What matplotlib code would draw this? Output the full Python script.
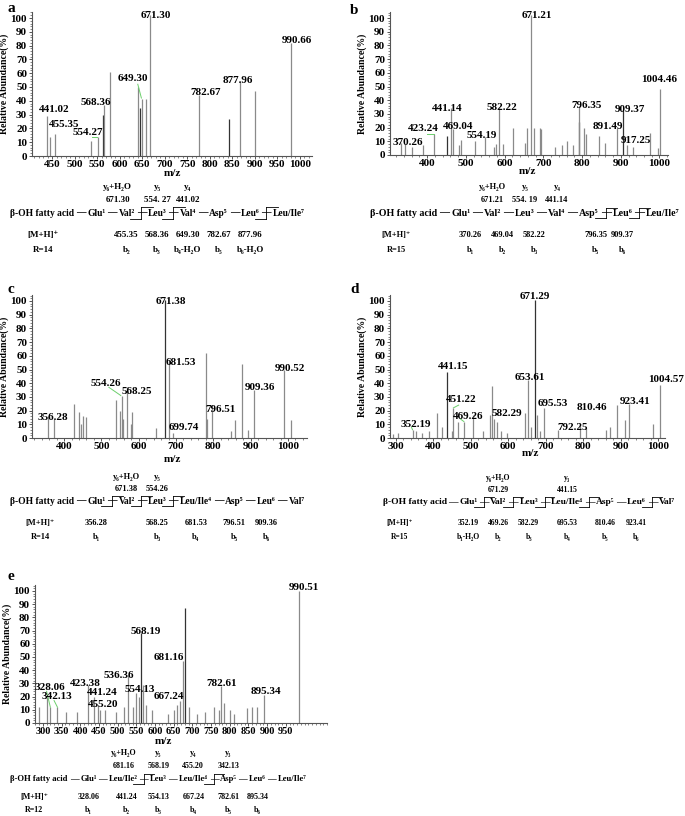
import matplotlib
matplotlib.use('Agg')
import numpy as np
import matplotlib.pyplot as plt
from matplotlib.ticker import MultipleLocator, AutoMinorLocator
from matplotlib.lines import Line2D

plt.rcParams['font.family'] = ['Liberation Serif', 'DejaVu Serif']
plt.rcParams['font.weight'] = 'bold'
plt.rcParams['axes.labelweight'] = 'bold'

W, H = 685, 816

# ---------------- spectra (m/z, relative abundance %) ----------------
a_mz = [439, 445, 455, 536, 551, 563, 566, 579, 640, 644, 649, 658, 667, 776, 842, 867, 900, 980]
a_int = [29, 14, 16, 11, 14, 30, 37, 61, 50, 35, 41, 41, 102, 44, 27, 54, 47, 82]
a_labels = ['671.30', '990.66', '649.30', '877.96', '782.67', '568.36', '441.02', '455.35', '554.27']

b_mz = [332, 344, 362, 390, 418, 452, 461, 467, 481, 488, 523, 550, 572, 579, 585, 596, 622, 652,
        658, 669, 675, 692, 695, 729, 749, 762, 776, 792, 793, 806, 809, 845, 860, 890, 907, 916,
        931, 976, 995, 1002]
b_int = [9, 8, 6, 7, 15, 14, 34, 19, 7, 11, 10, 13, 6, 8, 35, 8, 20, 9,
         20, 102, 20, 20, 19, 6, 7, 10, 7, 24, 36, 20, 15, 14, 9, 20, 33, 7,
         6, 16, 5, 48]
b_labels = ['671.21', '1004.46', '441.14', '582.22', '796.35', '909.37', '423.24', '469.04',
            '891.49', '554.19', '370.26', '917.25']

c_mz = [358, 374, 427, 441, 445, 450, 459, 539, 550, 555, 559, 568, 579, 581, 647, 671, 680,
        693, 780, 784, 796, 848, 858, 876, 892, 909, 990, 1009]
c_int = [16, 14, 25, 19, 10, 16, 15, 28, 20, 31, 14, 37, 10, 19, 7, 101, 57,
         4, 62, 14, 24, 5, 13, 54, 6, 35, 50, 13]
c_labels = ['671.38', '681.53', '990.52', '909.36', '554.26', '568.25', '796.51', '356.28', '699.74']

d_mz = [294, 307, 345, 354, 369, 390, 409, 423, 438, 449, 454, 467, 482, 507, 534, 551, 556, 562,
        569, 582, 596, 645, 653, 662, 671, 676, 685, 695, 733, 791, 807, 862, 871, 891, 911, 923,
        986, 1004]
d_int = [3, 4, 6, 5, 4, 5, 18, 8, 48, 5, 22, 12, 12, 17, 5, 17, 38, 14,
         12, 5, 4, 18, 42, 8, 101, 17, 5, 22, 6, 9, 7, 6, 8, 24, 13, 25,
         10, 39]
d_labels = ['671.29', '441.15', '653.61', '1004.57', '451.22', '923.41', '695.53', '810.46',
            '469.26', '582.29', '352.19', '792.25']

e_mz = [291, 311, 320, 339, 362, 391, 420, 436, 447, 453, 467, 496, 518, 529, 541, 550, 556, 562,
        568, 577, 592, 636, 650, 659, 668, 675, 679, 690, 712, 734, 757, 770, 777, 784, 801, 810,
        846, 859, 873, 891, 984]
e_int = [12, 20, 12, 12, 8, 8, 29, 20, 14, 10, 10, 8, 12, 36, 12, 23, 20, 68,
         29, 14, 10, 7, 10, 14, 17, 47, 87, 12, 7, 8, 12, 10, 28, 15, 10, 7,
         11, 12, 12, 21, 100]
e_labels = ['990.51', '568.19', '681.16', '536.36', '423.38', '782.61', '328.06', '554.13',
            '895.34', '441.24', '667.24', '342.13', '455.20']

# ---------------- fragmentation schemes ----------------
a_res = ['Glu¹', 'Val²', 'Leu³', 'Val⁴', 'Asp⁵', 'Leu⁶', 'Leu/Ile⁷']
a_yions = ['y₆+H₂O', 'y₅', 'y₄']
a_yvals = ['671.30', '554. 27', '441.02']
a_bvals = ['455.35', '568.36', '649.30', '782.67', '877.96']
a_bions = ['b₂', 'b₃', 'b₄-H₂O', 'b₅', 'b₆-H₂O']

b_res = ['Glu¹', 'Val²', 'Leu³', 'Val⁴', 'Asp⁵', 'Leu⁶', 'Leu/Ile⁷']
b_yions = ['y₆+H₂O', 'y₅', 'y₄']
b_yvals = ['671.21', '554. 19', '441.14']
b_bvals = ['370.26', '469.04', '582.22', '796.35', '909.37']
b_bions = ['b₁', 'b₂', 'b₃', 'b₅', 'b₆']

c_res = ['Glu¹', 'Val²', 'Leu³', 'Leu/Ile⁴', 'Asp⁵', 'Leu⁶', 'Val⁷']
c_yions = ['y₆+H₂O', 'y₅']
c_yvals = ['671.38', '554.26']
c_bvals = ['356.28', '568.25', '681.53', '796.51', '909.36']
c_bions = ['b₁', 'b₃', 'b₄', 'b₅', 'b₆']

d_res = ['Glu¹', 'Val²', 'Leu³', 'Leu/Ile⁴', 'Asp⁵', 'Leu⁶', 'Val⁷']
d_yions = ['y₆+H₂O', 'y₃']
d_yvals = ['671.29', '441.15']
d_bvals = ['352.19', '469.26', '582.29', '695.53', '810.46', '923.41']
d_bions = ['b₁-H₂O', 'b₂', 'b₃', 'b₄', 'b₅', 'b₆']

e_res = ['Glu¹', 'Leu/Ile²', 'Leu³', 'Leu/Ile⁴', 'Asp⁵', 'Leu⁶', 'Leu/Ile⁷']
e_yions = ['y₆+H₂O', 'y₅', 'y₄', 'y₃']
e_yvals = ['681.16', '568.19', '455.20', '342.13']
e_bvals = ['328.06', '441.24', '554.13', '667.24', '782.61', '895.34']
e_bions = ['b₁', 'b₂', 'b₃', 'b₄', 'b₅', 'b₆']

# ---------------- layout (text anchors in data coords, pixels for schemes) ----------------
LAB_XY = {
    'a': [(679, 102), (993, 84), (629, 56), (863, 55), (791, 46), (547, 39), (454, 34), (477, 23), (529, 17)],
    'b': [(682, 102), (1000, 55), (452, 34), (593, 35), (811, 36), (924, 33), (390, 19), (480, 21),
          (866, 21), (540, 14), (351, 9), (938, 10.5)],
    'c': [(686, 100), (713, 55), (1006, 51), (924, 36.5), (513, 40), (595, 34), (818, 21), (371, 15), (720, 8)],
    'd': [(671, 103), (454, 52), (658, 44), (1022, 43), (476, 28), (938, 27), (720, 25), (824, 22),
          (492, 16), (596, 18), (354, 10), (773, 8)],
    'e': [(998, 103), (574, 69), (636, 50), (502, 36), (413, 30), (779, 30), (320, 27), (560, 25),
          (898, 24), (458, 23), (636, 20), (338, 20), (462, 14)],
}
DARK = {'a': [5, 9, 14], 'b': [5, 27, 34], 'c': [15], 'd': [8, 24], 'e': [17, 26]}
LEADERS = {
    'a': [((640, 52), (648, 42)), ((538, 14), (550, 14))],
    'b': [((400, 15), (418, 15))],
    'c': [((520, 37), (552, 31))],
    'd': [((468, 24), (454, 22)), ((472, 14), (482, 12)), ((342, 8), (345, 6))],
    'e': [((310, 24), (320, 12)), ((330, 17), (339, 12))],
}

fig = plt.figure(figsize=(W / 100, H / 100), dpi=100)
renderer = fig.canvas.get_renderer()


def fx(x):
    return x / W


def fy(y):
    return 1 - y / H


def spectrum(key, mz, inten, labels, box, hundred_y, xlim, xticks, letter_xy, mz_xy, tick_fs=8):
    left, top, right, zero_y = box
    ax = fig.add_axes([fx(left), fy(zero_y), (right - left) / W, (zero_y - top) / H])
    colors = ['#333333' if i in DARK[key] else '#8a8a8a' for i in range(len(mz))]
    ax.vlines(mz, 0, inten, colors=colors, lw=0.9)
    for s, (x, y) in zip(labels, LAB_XY[key]):
        ax.text(x, y, s, ha='center', va='center', fontsize=8, weight='bold')
    for p0, p1 in LEADERS[key]:
        ax.plot([p0[0], p1[0]], [p0[1], p1[1]], color='#6ccf6c', lw=0.7)
    ax.set_xlim(*xlim)
    ax.set_ylim(0, 100 * (zero_y - top) / (zero_y - hundred_y))
    ax.set_xticks(xticks)
    ax.set_yticks(range(0, 101, 10))
    ax.xaxis.set_minor_locator(AutoMinorLocator(5))
    ax.yaxis.set_minor_locator(MultipleLocator(2))
    for s in ['top', 'right']:
        ax.spines[s].set_visible(False)
    for s in ['left', 'bottom']:
        ax.spines[s].set_linewidth(0.8)
        ax.spines[s].set_color('#555555')
    ax.tick_params(which='major', length=2.5, width=0.7, pad=1, labelsize=8, colors='#555555',
                   labelcolor='black')
    ax.tick_params(axis='x', labelsize=tick_fs, pad=0.5)
    ax.tick_params(which='minor', length=1.3, width=0.5, colors='#555555')
    for t in ax.get_xticklabels() + ax.get_yticklabels():
        t.set_fontweight('bold')
    ax.set_ylabel('Relative Abundance(%)', fontsize=7, labelpad=1)
    fig.text(fx(letter_xy[0]), fy(letter_xy[1]), key, fontsize=11, weight='bold', va='center')
    fig.text(fx(mz_xy[0]), fy(mz_xy[1]), 'm/z', fontsize=8, weight='bold', ha='center', va='center')


def seg(x0, x1, y0, y1, lw=0.6):
    fig.add_artist(Line2D([fx(x0), fx(x1)], [fy(y0), fy(y1)], transform=fig.transFigure,
                          color='black', lw=lw))


def scheme(res, cuts, yions, yvals, y_idx, bvals, bions, b_idx, span, rows, fs, mh_x, rtext):
    x0, x1 = span
    yi, yv, ym, yb, yn = rows
    pieces = ['β-OH fatty acid']
    for r in res:
        pieces += ['—', r]
    widths = []
    for p in pieces:
        t = fig.text(0, 0, p, fontsize=10, weight='bold')
        widths.append(t.get_window_extent(renderer).width)
        t.remove()
    gap = 2.5
    k = (x1 - x0) / (sum(widths) + gap * (len(pieces) - 1))
    x = x0
    centers = []
    for p, w in zip(pieces, widths):
        w *= k
        fig.text(fx(x + w / 2), fy(ym), p, ha='center', va='center', fontsize=10 * k, weight='bold')
        centers.append(x + w / 2)
        x += w + gap * k
    dashes = centers[1::2]
    res_c = centers[2::2]
    h = 0.9 * fs
    for i in cuts:
        c = dashes[i + 1]
        seg(c, c, ym - h, ym + h)
        seg(c, c + 1.8 * fs, ym - h, ym - h)
        seg(c - 1.8 * fs, c, ym + h, ym + h)
    kw = dict(fontsize=fs, weight='bold', va='center', ha='center')
    for s, v, i in zip(yions, yvals, y_idx):
        x = np.interp(i, range(len(res_c)), res_c)
        fig.text(fx(x), fy(yi), s, **kw)
        fig.text(fx(x), fy(yv), v, **kw)
    fig.text(fx(mh_x), fy(yb), '[M+H]⁺', **kw)
    fig.text(fx(mh_x), fy(yn), rtext, **kw)
    for v, s, i in zip(bvals, bions, b_idx):
        x = np.interp(i, range(len(res_c)), res_c)
        fig.text(fx(x), fy(yb), v, **kw)
        fig.text(fx(x), fy(yn), s, **kw)


spectrum('a', a_mz, a_int, a_labels, (32, 12, 312, 156), 18, (405, 1027), range(450, 1001, 50),
         (8, 8), (172, 173))
spectrum('b', b_mz, b_int, b_labels, (390, 12, 668, 155), 18, (304, 1022), range(400, 1001, 100),
         (350, 10), (527, 172))
spectrum('c', c_mz, c_int, c_labels, (32, 295, 307, 438), 301, (314, 1051), range(400, 1001, 100),
         (8, 289), (172, 460))
spectrum('d', d_mz, d_int, d_labels, (390, 295, 665, 438), 301, (285, 1018), range(300, 1001, 100),
         (350, 289), (530, 453))
spectrum('e', e_mz, e_int, e_labels, (35, 585, 327, 723), 591, (279, 1060), range(300, 951, 50),
         (8, 577), (163, 741), tick_fs=7.5)

scheme(a_res, [1, 2, 5], a_yions, a_yvals, [0.7, 2, 3], a_bvals, a_bions, [1, 2, 3, 4, 5],
       (10, 305), (187, 200, 213, 235, 250), 6.5, 43, 'R=14')
scheme(b_res, [4, 5], b_yions, b_yvals, [1, 2, 3], b_bvals, b_bions, [0.3, 1.3, 2.3, 4.2, 5],
       (370, 680), (187, 200, 213, 235, 250), 6.0, 396, 'R=15')
scheme(c_res, [0, 1, 2], c_yions, c_yvals, [1, 2], c_bvals, c_bions, [0, 2, 3, 4, 5],
       (10, 305), (477, 489, 501, 523, 537), 6.0, 40, 'R=14')
scheme(d_res, [0, 1, 2, 3, 5], d_yions, d_yvals, [1, 3], d_bvals, d_bions, [-0.1, 1, 2, 3, 4, 5],
       (383, 675), (478, 490, 502, 523, 537), 5.5, 400, 'R=15')
scheme(e_res, [1, 3], e_yions, e_yvals, [1, 2, 3, 4], e_bvals, e_bions, [0, 1.1, 2, 3, 4, 5],
       (10, 307), (753, 766, 779, 797, 810), 5.8, 34, 'R=12')

fig.savefig('out.png', dpi=100)
